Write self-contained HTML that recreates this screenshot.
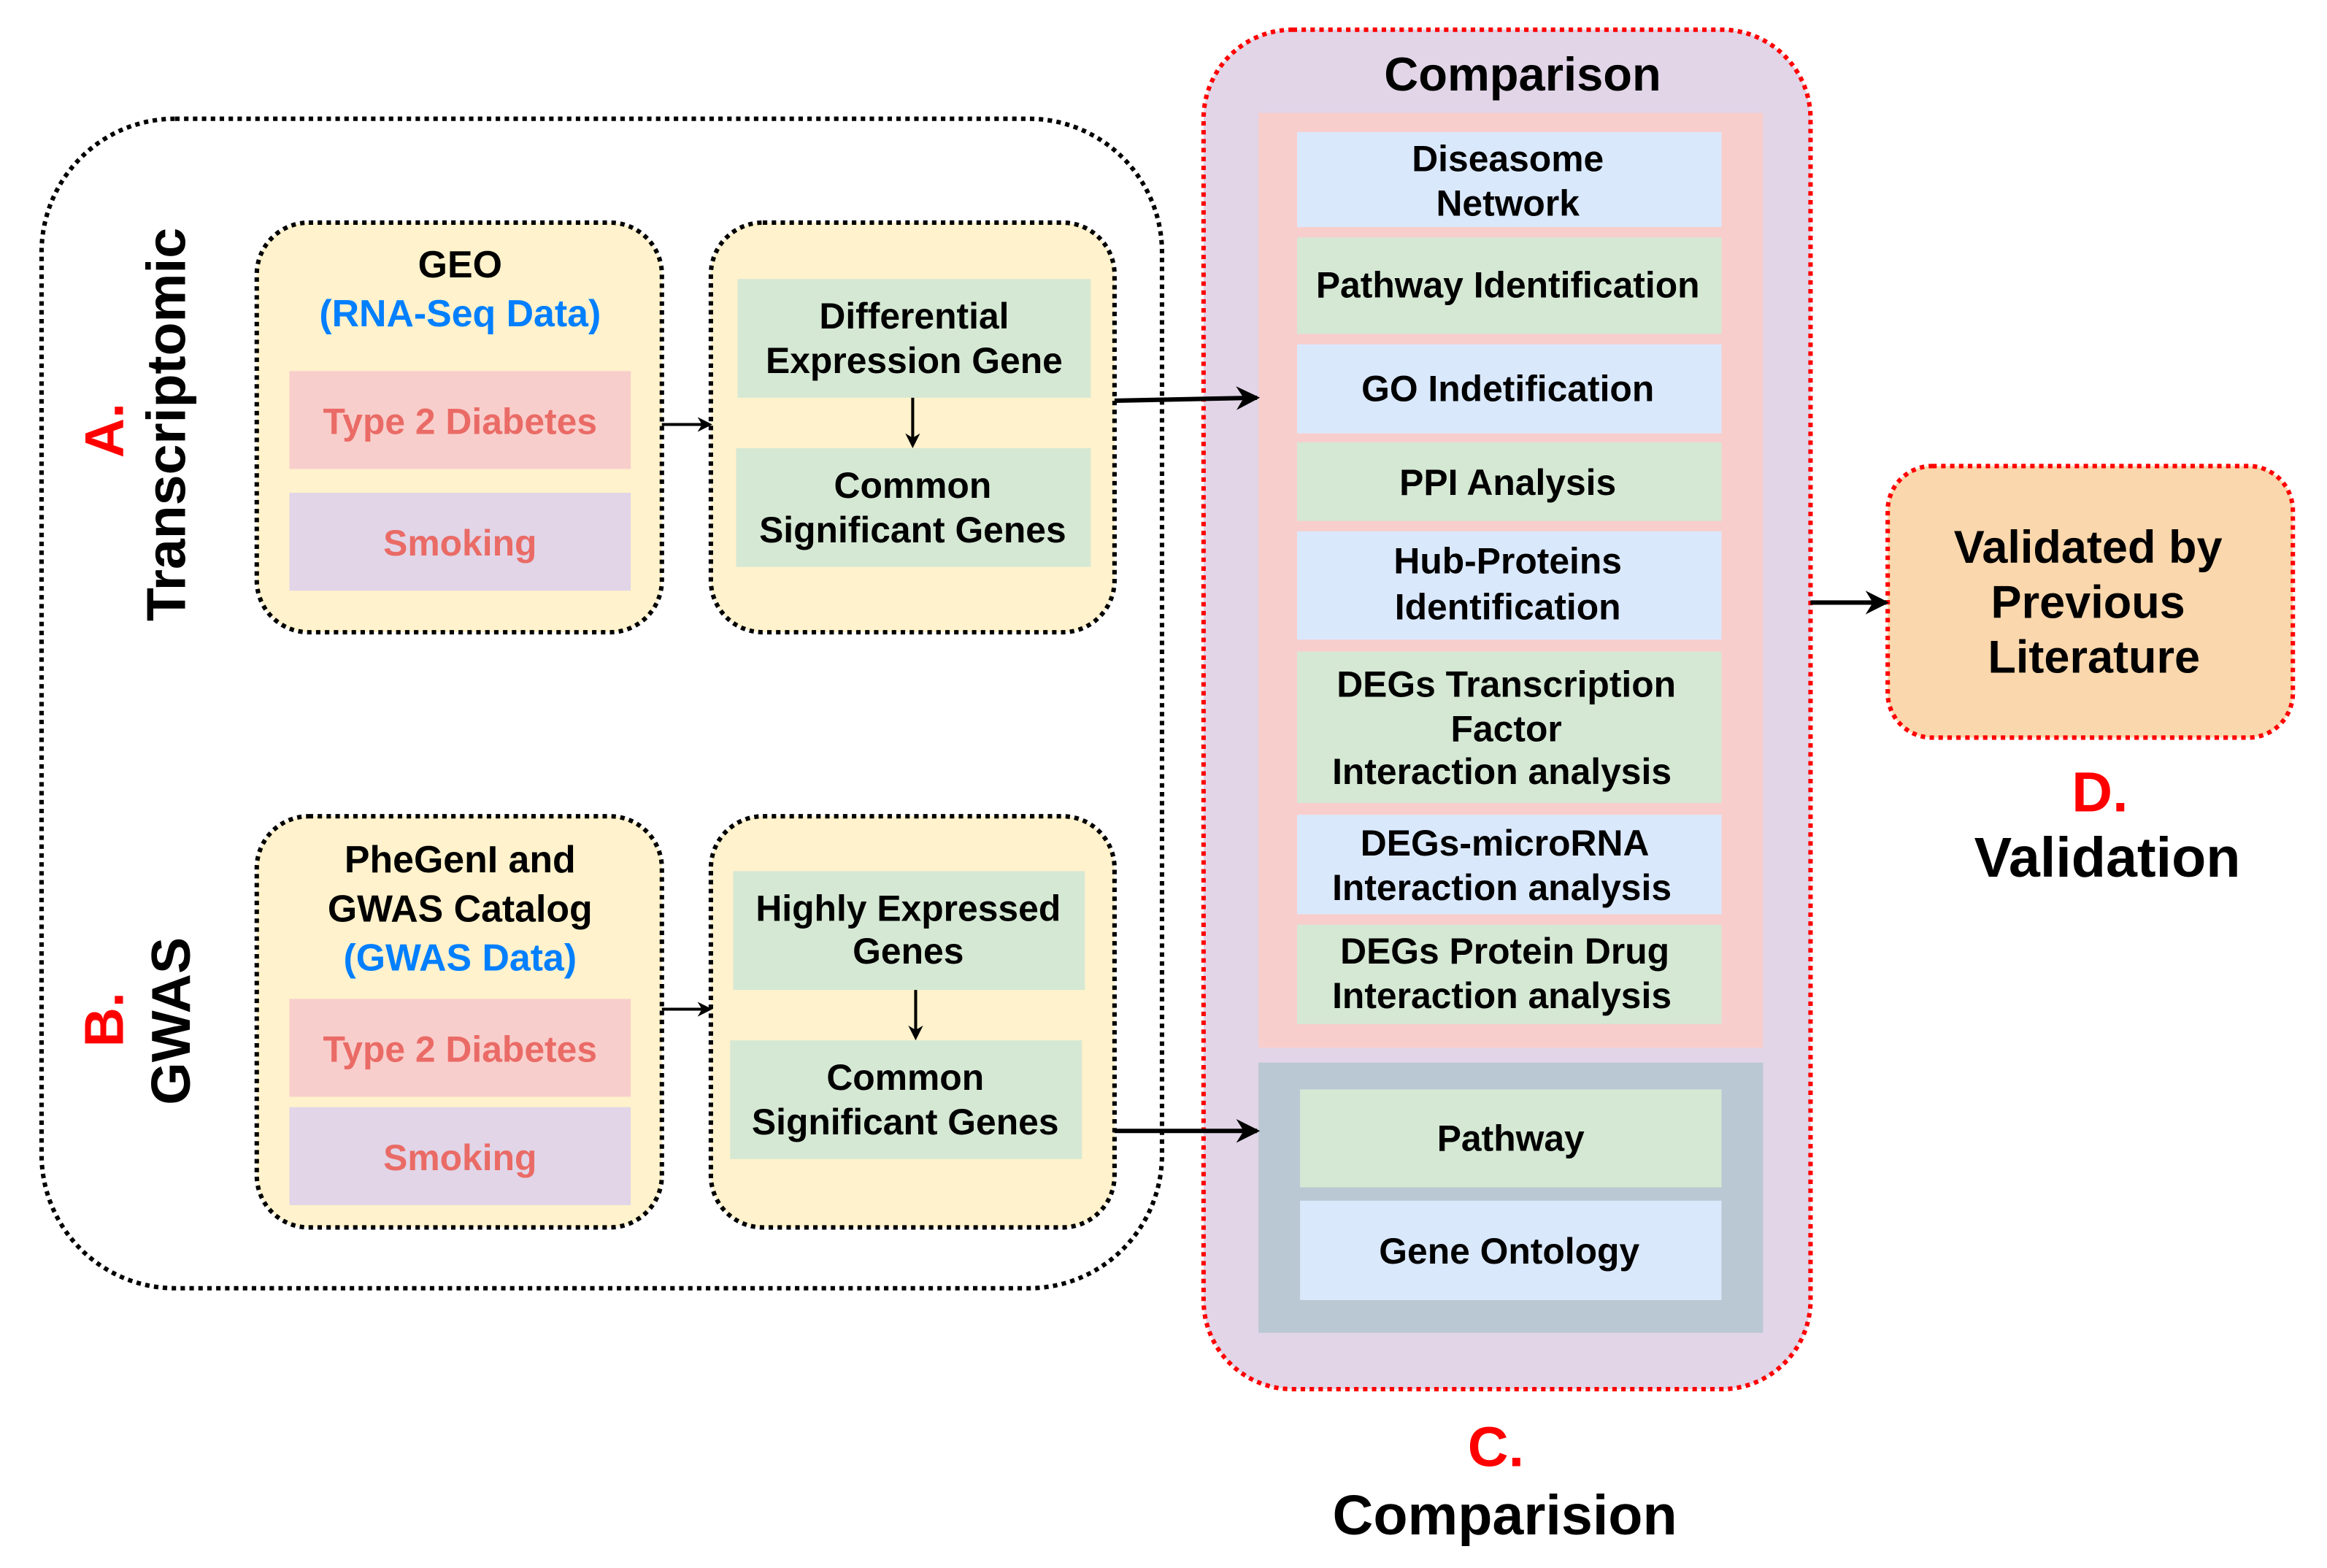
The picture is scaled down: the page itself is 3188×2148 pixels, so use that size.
<!DOCTYPE html>
<html><head><meta charset="utf-8"><style>html,body{margin:0;padding:0;background:#fff}svg{display:block}text{font-family:"Liberation Sans",Arial,sans-serif;font-weight:bold;text-anchor:middle;dominant-baseline:central}</style></head>
<body>
<svg width="3188" height="2148" viewBox="0 0 1568 1056.5" xmlns="http://www.w3.org/2000/svg">
<defs><marker id="ah" markerWidth="10" markerHeight="10" refX="8" refY="5" orient="auto" markerUnits="userSpaceOnUse"><path d="M0,0 L10,5 L0,10 L3,5 z" fill="#000"/></marker>
<marker id="ahb" markerWidth="16" markerHeight="16" refX="14" refY="8" orient="auto" markerUnits="userSpaceOnUse"><path d="M0,0 L16,8 L0,16 L5,8 z" fill="#000"/></marker></defs>
<rect width="1568" height="1057" fill="#fff"/>
<rect x="28" y="80" width="755" height="788" rx="90" fill="none" stroke="#000" stroke-width="3" stroke-dasharray="3,3"/>
<!-- GEO -->
<rect x="173" y="150" width="273" height="276" rx="35" fill="#fff2cc" stroke="#000" stroke-width="3" stroke-dasharray="3,3"/>
<text x="310" y="178" font-size="25.5">GEO</text>
<text x="310" y="211" font-size="25.5" fill="#007fff">(RNA-Seq Data)</text>
<rect x="195" y="250" width="230" height="66" fill="#f8cecc"/>
<text x="310" y="284" font-size="24.5" fill="#ea6b66">Type 2 Diabetes</text>
<rect x="195" y="332" width="230" height="66" fill="#e1d5e7"/>
<text x="310" y="366" font-size="24.5" fill="#ea6b66">Smoking</text>
<rect x="479" y="150" width="272" height="276" rx="35" fill="#fff2cc" stroke="#000" stroke-width="3" stroke-dasharray="3,3"/>
<rect x="497" y="188" width="238" height="80" fill="#d5e8d4"/>
<text x="616" y="213" font-size="24.5">Differential</text>
<text x="616" y="243" font-size="24.5">Expression Gene</text>
<rect x="496" y="302" width="239" height="80" fill="#d5e8d4"/>
<text x="615" y="327" font-size="24.5">Common</text>
<text x="615" y="357" font-size="24.5">Significant Genes</text>
<line x1="615" y1="268" x2="615" y2="300" stroke="#000" stroke-width="2" marker-end="url(#ah)"/>
<line x1="446" y1="286" x2="478" y2="286" stroke="#000" stroke-width="2" marker-end="url(#ah)"/>
<text transform="translate(70,290) rotate(-90)" font-size="37" fill="#ff0000">A.</text>
<text transform="translate(112,286) rotate(-90)" font-size="37">Transcriptomic</text>
<!-- GWAS -->
<rect x="173" y="550" width="273" height="277" rx="35" fill="#fff2cc" stroke="#000" stroke-width="3" stroke-dasharray="3,3"/>
<text x="310" y="579" font-size="25.5">PheGenI and</text>
<text x="310" y="612" font-size="25.5">GWAS Catalog</text>
<text x="310" y="645" font-size="25.5" fill="#007fff">(GWAS Data)</text>
<rect x="195" y="673" width="230" height="66" fill="#f8cecc"/>
<text x="310" y="707" font-size="24.5" fill="#ea6b66">Type 2 Diabetes</text>
<rect x="195" y="746" width="230" height="66" fill="#e1d5e7"/>
<text x="310" y="780" font-size="24.5" fill="#ea6b66">Smoking</text>
<rect x="479" y="550" width="272" height="277" rx="35" fill="#fff2cc" stroke="#000" stroke-width="3" stroke-dasharray="3,3"/>
<rect x="494" y="587" width="237" height="80" fill="#d5e8d4"/>
<text x="612" y="612" font-size="24.5">Highly Expressed</text>
<text x="612" y="641" font-size="24.5">Genes</text>
<rect x="492" y="701" width="237" height="80" fill="#d5e8d4"/>
<text x="610" y="726" font-size="24.5">Common</text>
<text x="610" y="756" font-size="24.5">Significant Genes</text>
<line x1="617" y1="667" x2="617" y2="699" stroke="#000" stroke-width="2" marker-end="url(#ah)"/>
<line x1="446" y1="680" x2="478" y2="680" stroke="#000" stroke-width="2" marker-end="url(#ah)"/>
<text transform="translate(70,687) rotate(-90)" font-size="37" fill="#ff0000">B.</text>
<text transform="translate(115,688) rotate(-90)" font-size="37">GWAS</text>
<!-- Comparison -->
<rect x="811" y="20" width="409" height="916" rx="60" fill="#e1d5e7" stroke="#ff0000" stroke-width="3" stroke-dasharray="3,3"/>
<text x="1026" y="50" font-size="32">Comparison</text>
<rect x="848" y="76" width="340" height="630" fill="#f8cecc"/>
<rect x="874" y="89" width="286" height="64" fill="#dae8fc"/>
<text x="1016" y="107" font-size="24.5">Diseasome</text><text x="1016" y="137" font-size="24.5">Network</text>
<rect x="874" y="160" width="286" height="65" fill="#d5e8d4"/>
<text x="1016" y="192" font-size="24.5">Pathway Identification</text>
<rect x="874" y="232" width="286" height="60" fill="#dae8fc"/>
<text x="1016" y="262" font-size="24.5">GO Indetification</text>
<rect x="874" y="298" width="286" height="53" fill="#d5e8d4"/>
<text x="1016" y="325" font-size="24.5">PPI Analysis</text>
<rect x="874" y="358" width="286" height="73" fill="#dae8fc"/>
<text x="1016" y="378" font-size="24.5">Hub-Proteins</text><text x="1016" y="409" font-size="24.5">Identification</text>
<rect x="874" y="439" width="286" height="102" fill="#d5e8d4"/>
<text x="1015" y="461" font-size="24.5">DEGs Transcription</text><text x="1015" y="491" font-size="24.5">Factor</text><text x="1012" y="520" font-size="24.5">Interaction analysis</text>
<rect x="874" y="549" width="286" height="67" fill="#dae8fc"/>
<text x="1014" y="568" font-size="24.5">DEGs-microRNA</text><text x="1012" y="598" font-size="24.5">Interaction analysis</text>
<rect x="874" y="623" width="286" height="67" fill="#d5e8d4"/>
<text x="1014" y="641" font-size="24.5">DEGs Protein Drug</text><text x="1012" y="671" font-size="24.5">Interaction analysis</text>
<rect x="848" y="716" width="340" height="182" fill="#bac8d3"/>
<rect x="876" y="734" width="284" height="66" fill="#d5e8d4"/>
<text x="1018" y="767" font-size="24.5">Pathway</text>
<rect x="876" y="809" width="284" height="67" fill="#dae8fc"/>
<text x="1017" y="843" font-size="24.5">Gene Ontology</text>
<text x="1008" y="975" font-size="38" fill="#ff0000">C.</text>
<text x="1014" y="1021" font-size="38">Comparision</text>
<rect x="1272" y="314" width="273" height="183" rx="30" fill="#fad7ac" stroke="#ff0000" stroke-width="3" stroke-dasharray="3,3"/>
<text x="1407" y="369" font-size="31">Validated by</text>
<text x="1407" y="406" font-size="31">Previous</text>
<text x="1411" y="443" font-size="31">Literature</text>
<text x="1415" y="534" font-size="38" fill="#ff0000">D.</text>
<text x="1420" y="578" font-size="38">Validation</text>
<line x1="751" y1="270" x2="847" y2="268" stroke="#000" stroke-width="3" marker-end="url(#ahb)"/>
<line x1="751" y1="762" x2="847" y2="762" stroke="#000" stroke-width="3" marker-end="url(#ahb)"/>
<line x1="1220" y1="406" x2="1271" y2="406" stroke="#000" stroke-width="3" marker-end="url(#ahb)"/>
</svg>
</body></html>
